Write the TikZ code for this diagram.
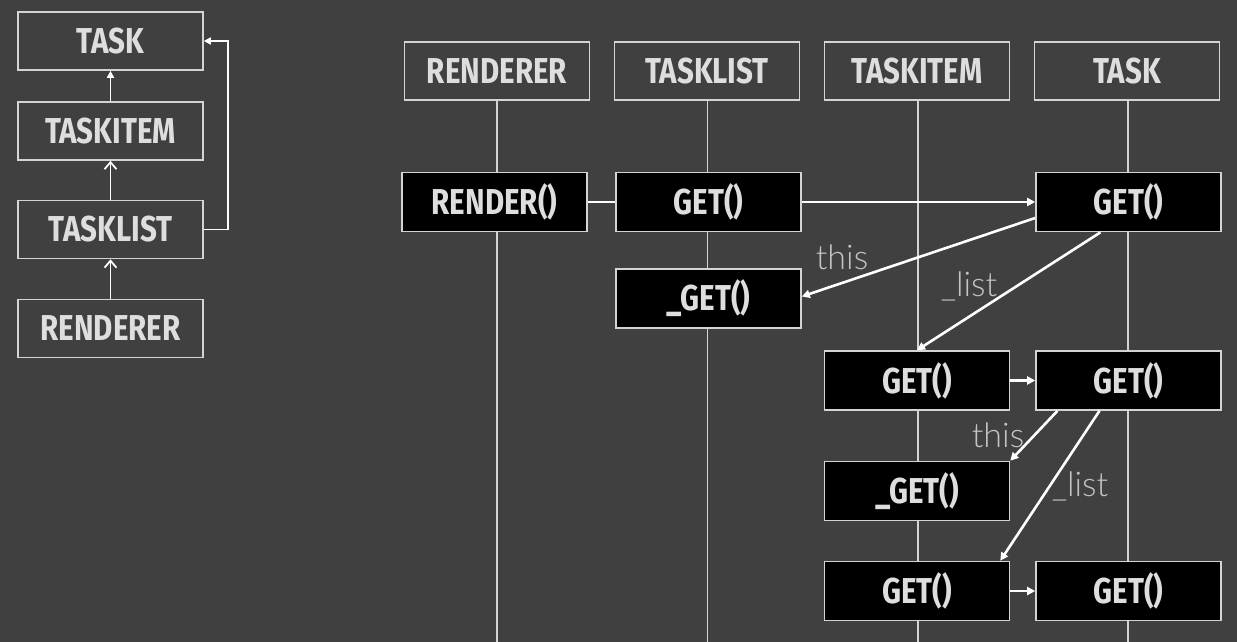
\documentclass[tikz,border=0pt]{standalone}
\usepackage{fontspec}
\usetikzlibrary{arrows.meta,calc}
\newfontfamily\hdrfont[FakeStretch=0.82]{Fira Sans}
\newfontfamily\thinfont{Lato Light}
\definecolor{bg}{HTML}{404040}
\definecolor{edge}{HTML}{D4D4D4}
\definecolor{txt}{HTML}{DEDEDE}
\definecolor{lbl}{HTML}{C4C4C4}
\tikzset{
  box/.style={draw=edge, line width=1.6pt, inner sep=0pt, text=txt,
    font=\hdrfont\bfseries\fontsize{36}{40}\selectfont,
    minimum width=185pt, minimum height=58pt},
  hdr/.style={box, fill=bg},
  act/.style={box, fill=black, minimum height=59pt},
  life/.style={draw=edge, line width=1.3pt},
  msg/.style={draw=white, line width=2.6pt, -{Triangle[length=8pt,width=8pt]}},
  plain/.style={draw=white, line width=2.6pt},
  inh/.style={draw=white, line width=1.8pt, -{Straight Barb[length=7pt,width=12pt]}},
  inhf/.style={draw=white, line width=1.8pt, -{Triangle[length=7pt,width=7pt]}},
  lab/.style={text=lbl, font=\thinfont\fontsize{34}{38}\selectfont, inner sep=0pt, anchor=base}
}
\begin{document}
\begin{tikzpicture}[x=1pt,y=-1pt]
\fill[bg] (0,0) rectangle (1237,642);
\useasboundingbox (0,0) rectangle (1237,642);

% ---- left: class hierarchy ----
\node[hdr] (ltask) at (110.5,41) {TASK};
\node[hdr] (litem) at (110.5,131) {TASKITEM};
\node[hdr] (llist) at (110.5,229.5) {TASKLIST};
\node[hdr] (lrend) at (110.5,328.5) {RENDERER};
\coordinate (rt) at (228,0);
\draw[inh] (lrend.north) -- (llist.south);
\draw[inh] (llist.north) -- (litem.south);
\draw[inhf] (litem.north) -- (ltask.south);
\draw[inhf] (llist.east) -- (llist.east -| rt) |- (ltask.east);

% ---- right: sequence diagram ----
\node[hdr] (hrend) at (497,71) {RENDERER};
\node[hdr] (hlist) at (707,71) {TASKLIST};
\node[hdr] (hitem) at (917,71) {TASKITEM};
\node[hdr] (htask) at (1127,71) {TASK};
\coordinate (erend) at (497,642);
\coordinate (elist) at (707.5,642);
\coordinate (eitem) at (918,642);
\coordinate (etask) at (1128,642);
\draw[life] (hrend.south) -- (erend);
\draw[life] ([xshift=0.5pt]hlist.south) -- (elist);
\draw[life] ([xshift=1pt]hitem.south) -- (eitem);
\draw[life] ([xshift=1pt]htask.south) -- (etask);

\node[act] (render) at (494.5,202) {RENDER()};
\node[act] (tlget) at (708.5,202) {GET()};
\node[act] (tlpget) at (708.5,298.5) {\_GET()};
\node[act] (tget1) at (1128.5,202) {GET()};
\node[act] (tiget1) at (917,380.5) {GET()};
\node[act] (tget2) at (1128.5,380.5) {GET()};
\node[act] (tipget) at (917,491) {\_GET()};
\node[act] (tiget2) at (917,591) {GET()};
\node[act] (tget3) at (1128.5,591) {GET()};

\node[lab] (l1) at (842,269) {this};
\node[lab] (l2) at (969,296) {\_list};
\node[lab] (l3) at (998,447) {this};
\node[lab] (l4) at (1080,496) {\_list};

\draw[plain] (render.east) -- (tlget.west);
\draw[msg] (tlget.east) -- (tget1.west);
\draw[msg] ([yshift=-16pt]tget1.west) -- ([yshift=2pt]tlpget.east);
\draw[msg] ([xshift=-28pt]tget1.south) -- (tiget1.north);
\draw[msg] (tiget1.east) -- (tget2.west);
\draw[msg] ([xshift=-71pt]tget2.south) -- (tipget.north east);
\draw[msg] ([xshift=-29pt]tget2.south) -- ([xshift=-10pt]tiget2.north east);
\draw[msg] (tiget2.east) -- (tget3.west);
\end{tikzpicture}
\end{document}
